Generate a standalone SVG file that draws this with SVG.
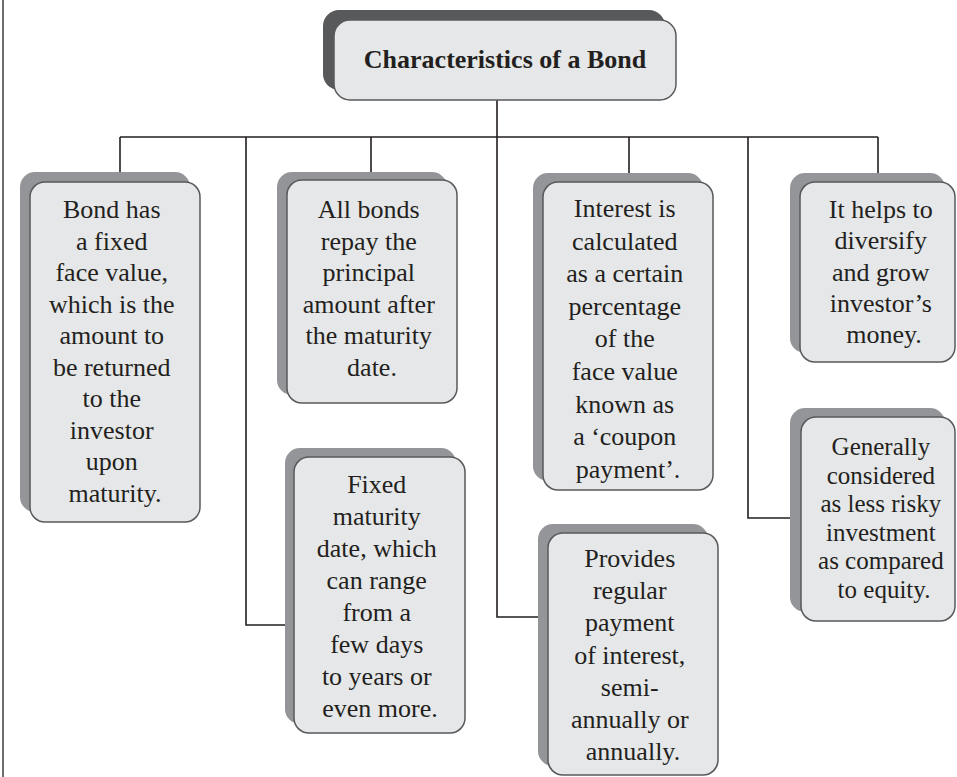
<svg xmlns="http://www.w3.org/2000/svg" width="957" height="777" viewBox="0 0 957 777">
  <style>
    .shadow { fill: #939598; }
    .shadow-dark { fill: #58595b; }
    .card { fill: #e6e7e8; stroke: #58595b; stroke-width: 1.5; }
    .label { font-family: 'Liberation Serif', 'DejaVu Serif', 'Noto Serif', serif; font-size: 26px; fill: #231f20; text-anchor: middle; }
    .title { font-weight: bold; }
    .wire { fill: none; stroke: #231f20; stroke-width: 1.6; }
  </style>
  <rect width="957" height="777" fill="#ffffff"/>
  <!-- page margin rule -->
  <line x1="3" y1="0" x2="3" y2="777" stroke="#6d6e71" stroke-width="2"/>

  <g id="connectors">
    <path class="wire" d="M497 100 V137 M120 137 H878"/>
    <path class="wire" d="M120 137 V172"/>
    <path class="wire" d="M246 137 V625 H285"/>
    <path class="wire" d="M371 137 V172"/>
    <path class="wire" d="M497 137 V617 H538"/>
    <path class="wire" d="M629 137 V173"/>
    <path class="wire" d="M748 137 V518 H790"/>
    <path class="wire" d="M878 137 V173"/>
  </g>

  <g id="title">
    <rect class="shadow-dark" x="323" y="10" width="342" height="80" rx="16"/>
    <rect class="card" x="334" y="20" width="342" height="80" rx="16"/>
    <text class="label title" x="505" y="68">Characteristics of a Bond</text>
  </g>

  <g id="face-value">
    <rect class="shadow" x="20" y="172" width="170" height="340" rx="15"/>
    <rect class="card" x="30" y="182" width="170" height="340" rx="15"/>
    <text class="label">
      <tspan x="115" y="218">Bond has</tspan>
      <tspan x="115" y="249.5">a fixed</tspan>
      <tspan x="115" y="281">face value,</tspan>
      <tspan x="115" y="312.5">which is the</tspan>
      <tspan x="115" y="344">amount to</tspan>
      <tspan x="115" y="375.5">be returned</tspan>
      <tspan x="115" y="407">to the</tspan>
      <tspan x="115" y="438.5">investor</tspan>
      <tspan x="115" y="470">upon</tspan>
      <tspan x="115" y="501.5">maturity.</tspan>
    </text>
  </g>

  <g id="principal">
    <rect class="shadow" x="277" y="172" width="170" height="223" rx="15"/>
    <rect class="card" x="287" y="180" width="170" height="223" rx="15"/>
    <text class="label">
      <tspan x="372" y="218">All bonds</tspan>
      <tspan x="372" y="249.5">repay the</tspan>
      <tspan x="372" y="281">principal</tspan>
      <tspan x="372" y="312.5">amount after</tspan>
      <tspan x="372" y="344">the maturity</tspan>
      <tspan x="372" y="375.5">date.</tspan>
    </text>
  </g>

  <g id="maturity">
    <rect class="shadow" x="285" y="448" width="171" height="276" rx="15"/>
    <rect class="card" x="294" y="457" width="171" height="276" rx="15"/>
    <text class="label">
      <tspan x="380" y="493">Fixed</tspan>
      <tspan x="380" y="525">maturity</tspan>
      <tspan x="380" y="557">date, which</tspan>
      <tspan x="380" y="589">can range</tspan>
      <tspan x="380" y="621">from a</tspan>
      <tspan x="380" y="653">few days</tspan>
      <tspan x="380" y="685">to  years or</tspan>
      <tspan x="380" y="717">even more.</tspan>
    </text>
  </g>

  <g id="coupon">
    <rect class="shadow" x="533" y="173" width="170" height="308" rx="15"/>
    <rect class="card" x="543" y="182" width="170" height="308" rx="15"/>
    <text class="label">
      <tspan x="628" y="217">Interest is</tspan>
      <tspan x="628" y="249.6">calculated</tspan>
      <tspan x="628" y="282.2">as a certain</tspan>
      <tspan x="628" y="314.8">percentage</tspan>
      <tspan x="628" y="347.4">of the</tspan>
      <tspan x="628" y="380">face value</tspan>
      <tspan x="628" y="412.6">known as</tspan>
      <tspan x="628" y="445.2">a ‘coupon</tspan>
      <tspan x="628" y="477.8">payment’.</tspan>
    </text>
  </g>

  <g id="regular-payment">
    <rect class="shadow" x="538" y="524" width="170" height="242" rx="15"/>
    <rect class="card" x="548" y="533" width="170" height="242" rx="15"/>
    <text class="label">
      <tspan x="633" y="567">Provides</tspan>
      <tspan x="633" y="599.2">regular</tspan>
      <tspan x="633" y="631.4">payment</tspan>
      <tspan x="633" y="663.6">of interest,</tspan>
      <tspan x="633" y="695.8">semi-</tspan>
      <tspan x="633" y="728">annually or</tspan>
      <tspan x="633" y="760">annually.</tspan>
    </text>
  </g>

  <g id="diversify">
    <rect class="shadow" x="790" y="173" width="155" height="180" rx="15"/>
    <rect class="card" x="800" y="182" width="155" height="180" rx="15"/>
    <text class="label">
      <tspan x="884" y="218">It helps to</tspan>
      <tspan x="884" y="249.3">diversify</tspan>
      <tspan x="884" y="280.6">and grow</tspan>
      <tspan x="884" y="311.9">investor’s</tspan>
      <tspan x="884" y="343">money.</tspan>
    </text>
  </g>

  <g id="low-risk">
    <rect class="shadow" x="790" y="408" width="155" height="204" rx="15"/>
    <rect class="card" x="801" y="417" width="154" height="204" rx="15"/>
    <text class="label" style="font-size:25px">
      <tspan x="884" y="455">Generally</tspan>
      <tspan x="884" y="483.5">considered</tspan>
      <tspan x="884" y="512">as less risky</tspan>
      <tspan x="884" y="540.5">investment</tspan>
      <tspan x="884" y="569">as compared</tspan>
      <tspan x="884" y="597.5">to equity.</tspan>
    </text>
  </g>
</svg>
